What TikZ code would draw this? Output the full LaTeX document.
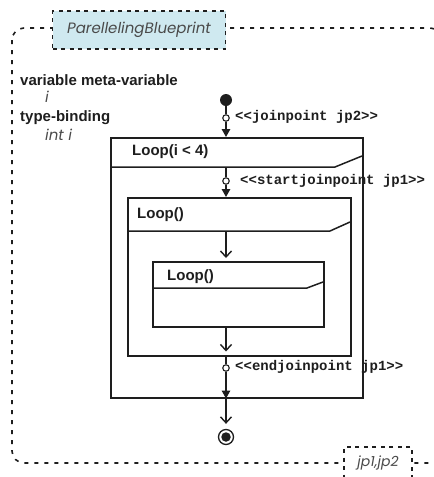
\documentclass[tikz,border=0pt]{standalone}
\usepackage{fontspec}
\setmainfont{Liberation Sans}
\setmonofont{Liberation Mono}
\newfontfamily\gothic{Poppins}
\usetikzlibrary{arrows.meta}
\definecolor{tagblue}{HTML}{CFE9F0}
\definecolor{ink}{HTML}{1E1E1E}
\definecolor{softgray}{HTML}{4A4A4A}
\tikzset{
  boxline/.style={draw=ink, line width=1.5pt},
  loopbox/.style={boxline, rectangle, inner sep=0pt, anchor=north west},
  looptitle/.style={anchor=west, font=\fontsize{15}{17}\selectfont\bfseries, text=ink, inner sep=0pt},
  sidelabel/.style={anchor=west, font=\fontsize{15}{17}\selectfont\bfseries, text=ink, inner sep=0pt},
  stereo/.style={anchor=west, font=\fontsize{14}{16}\selectfont\ttfamily\bfseries, text=ink, inner sep=0pt},
  pin/.style={circle, draw=ink, fill=white, line width=1.1pt, minimum size=6.5pt, inner sep=0pt},
  flow/.style={draw=ink, line width=1.5pt},
  solidhead/.style={flow, -{Triangle[length=8pt,width=8.5pt]}},
  openhead/.style={flow, -{Straight Barb[length=6pt,width=11pt,line width=1.4pt]}},
  dashborder/.style={draw=ink, line width=1.6pt, dash pattern=on 4pt off 6pt},
  graytext/.style={font=\fontsize{15}{17}\selectfont\gothic\itshape, text=softgray, inner sep=0pt},
  tagbox/.style={draw=ink, line width=1.6pt, dash pattern=on 4pt off 4.5pt, inner sep=0pt},
}
\begin{document}
\begin{tikzpicture}[x=1pt,y=-1pt]
\useasboundingbox (0,0) rectangle (434,477);
% outer dashed frame
\draw[dashborder, rounded corners=12pt] (12,28) rectangle (442,463);
% blueprint tag
\node[tagbox, fill=tagblue, minimum width=173pt, minimum height=38pt, graytext] (bp) at (139,30) {ParellelingBlueprint};
% bottom tag
\node[tagbox, fill=white, minimum width=68pt, minimum height=32pt, graytext, font=\fontsize{14}{16}\selectfont\gothic\itshape] (jp) at (378,463) {jp1,jp2};
% side labels
\node[sidelabel] (mv) at (20,80) {variable meta-variable};
\node[graytext, anchor=west] (mvi) at (45,97) {i};
\node[sidelabel] (tb) at (20,118) {type-binding};
\node[graytext, anchor=west] (tbi) at (45,135) {int i};
% loop boxes
\node[loopbox, minimum width=252pt, minimum height=260pt] (outer) at (110,137) {};
\node[loopbox, minimum width=223pt, minimum height=158pt] (middle) at (127,197) {};
\node[loopbox, minimum width=171pt, minimum height=65pt] (inner) at (152,261) {};
\draw[boxline] (110,167) -- (335,167) -- (362,156);
\draw[boxline] (127,231) -- (330,231) -- (350,222);
\draw[boxline] (152,288) -- (307,288) -- (323,282);
\node[looptitle] (t1) at (132,152) {Loop(i < 4)};
\node[looptitle] (t2) at (137,215) {Loop()};
\node[looptitle] (t3) at (167,277) {Loop()};
% flow
\node[circle, fill=ink, minimum size=12pt, inner sep=0pt] (init) at (226,100) {};
\node[pin] (jp2) at (226,118) {};
\draw[flow] (init) -- (jp2);
\draw[solidhead] (jp2) -- (init |- outer.north);
\coordinate (h1) at (226,167);
\node[pin] (sj) at (226,181) {};
\draw[flow] (h1) -- (sj);
\draw[solidhead] (sj) -- (sj |- middle.north);
\coordinate (h2) at (226,232);
\draw[openhead, shorten >=3pt] (h2) -- (h2 |- inner.north);
\draw[openhead, shorten >=5pt] (h2 |- inner.south) -- (h2 |- middle.south);
\node[pin] (ej) at (226,368) {};
\draw[flow] (h2 |- middle.south) -- (ej);
\draw[solidhead] (ej) -- (ej |- outer.south);
\node[circle, draw=ink, line width=1.3pt, fill=white, minimum size=15pt, inner sep=0pt] (final) at (226,437) {};
\node[circle, fill=ink, minimum size=9.5pt, inner sep=0pt] (finaldot) at (final.center) {};
\draw[openhead, shorten >=5pt] (ej |- outer.south) -- (final);
% stereotypes
\node[stereo] (l1) at (235,117) {<<joinpoint jp2>>};
\node[stereo] (l2) at (240,181) {<<startjoinpoint jp1>>};
\node[stereo] (l3) at (235,367) {<<endjoinpoint jp1>>};
\end{tikzpicture}
\end{document}
